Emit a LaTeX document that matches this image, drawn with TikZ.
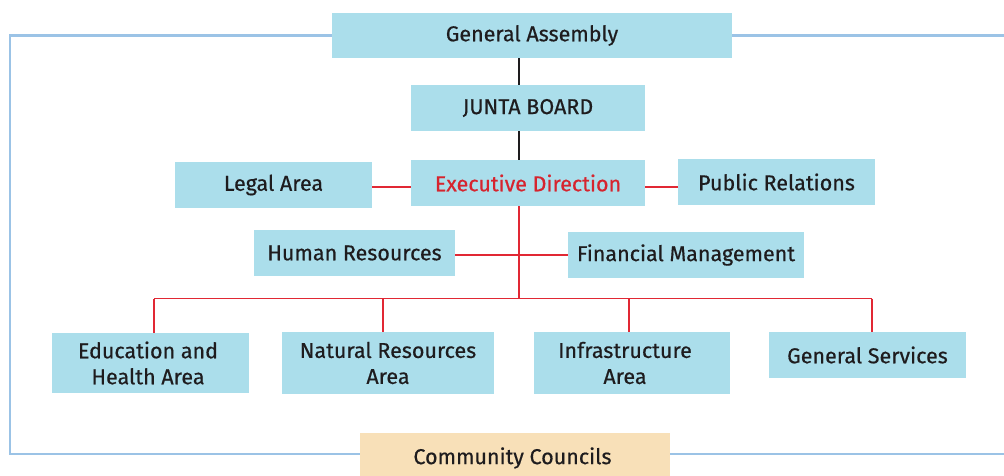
\documentclass[tikz,border=0pt]{standalone}
\usepackage{fontspec}
\setmainfont{Fira Sans}[FakeBold=0.5]
\definecolor{boxblue}{RGB}{171,222,235}
\definecolor{ccfill}{RGB}{248,224,184}
\definecolor{framebl}{RGB}{155,195,230}
\definecolor{linered}{RGB}{225,40,52}
\definecolor{txtred}{RGB}{214,36,46}
\definecolor{txtdark}{RGB}{30,28,30}
\tikzset{
  box/.style={rectangle, fill=boxblue, inner sep=0pt, align=center, text=txtdark,
    font=\fontsize{21.5}{26}\selectfont},
  ccbox/.style={box, fill=ccfill},
  blk/.style={draw=txtdark, line width=2pt},
  rl/.style={draw=linered, line width=1.6pt},
  frame/.style={draw=framebl, line width=2.6pt},
}
\begin{document}
\begin{tikzpicture}[x=1pt,y=-1pt]
\clip (0,0) rectangle (1004,476);
\fill[white] (0,0) rectangle (1004,476);
% nodes
\node[box, minimum width=400pt, minimum height=45pt] (ga) at (532,35.5) {General Assembly};
\node[box, minimum width=234pt, minimum height=46pt] (jb) at (528,108) {JUNTA BOARD};
\node[box, minimum width=234pt, minimum height=46pt, text=txtred] (ed) at (528,183) {Executive Direction};
\node[box, minimum width=197pt, minimum height=46pt] (la) at (273.5,185) {Legal Area};
\node[box, minimum width=197pt, minimum height=46pt] (pr) at (776.5,182) {Public Relations};
\node[box, minimum width=201pt, minimum height=46pt] (hr) at (354.5,253) {Human Resources};
\node[box, minimum width=236pt, minimum height=46pt] (fm) at (686,255) {Financial Management};
\node[box, minimum width=197pt, minimum height=60pt] (eh) at (150.5,363) {\hspace*{-5pt}Education and\\\hspace*{-5pt}Health Area};
\node[box, minimum width=212pt, minimum height=62pt] (nr) at (388,363) {Natural Resources\\Area};
\node[box, minimum width=196pt, minimum height=62pt] (ia) at (632,363) {\hspace*{-14pt}Infrastructure\\\hspace*{-14pt}Area};
\node[box, minimum width=197pt, minimum height=46pt] (gs) at (867.5,355) {General Services};
\node[ccbox, minimum width=310pt, minimum height=50pt] (cc) at (515,458) {\hspace*{-5pt}Community Councils};
% helper coordinates
\coordinate (sp) at (519,0);
\coordinate (r1) at (519,187);
\coordinate (r2) at (519,255);
\coordinate (bus) at (519,298.5);
\coordinate (d1) at (154,298.5);
\coordinate (d2) at (383,298.5);
\coordinate (d3) at (629,298.5);
\coordinate (d4) at (872,298.5);
\coordinate (fl) at (10,454);
\coordinate (fr) at (1010,454);
\coordinate (ft) at (1010,35.5);
% black connectors
\draw[blk] (ga.south -| sp) -- (jb.north -| sp);
\draw[blk] (jb.south -| sp) -- (ed.north -| sp);
% red connectors
\draw[rl] (la.east |- r1) -- (ed.west |- r1);
\draw[rl] (ed.east |- r1) -- (pr.west |- r1);
\draw[rl] (ed.south -| sp) -- (bus);
\draw[rl] (hr.east |- r2) -- (fm.west |- r2);
\draw[rl] (d1) -- (d4);
\draw[rl] (d1) -- (d1 |- eh.north);
\draw[rl] (d2) -- (d2 |- nr.north);
\draw[rl] (d3) -- (d3 |- ia.north);
\draw[rl] (d4) -- (d4 |- gs.north);
% frame
\draw[frame] (ga.west) -| (fl) -- (fl -| cc.west);
\draw[frame] (ga.east) -- (ft);
\draw[frame] (cc.east |- fr) -- (fr);
\end{tikzpicture}
\end{document}
